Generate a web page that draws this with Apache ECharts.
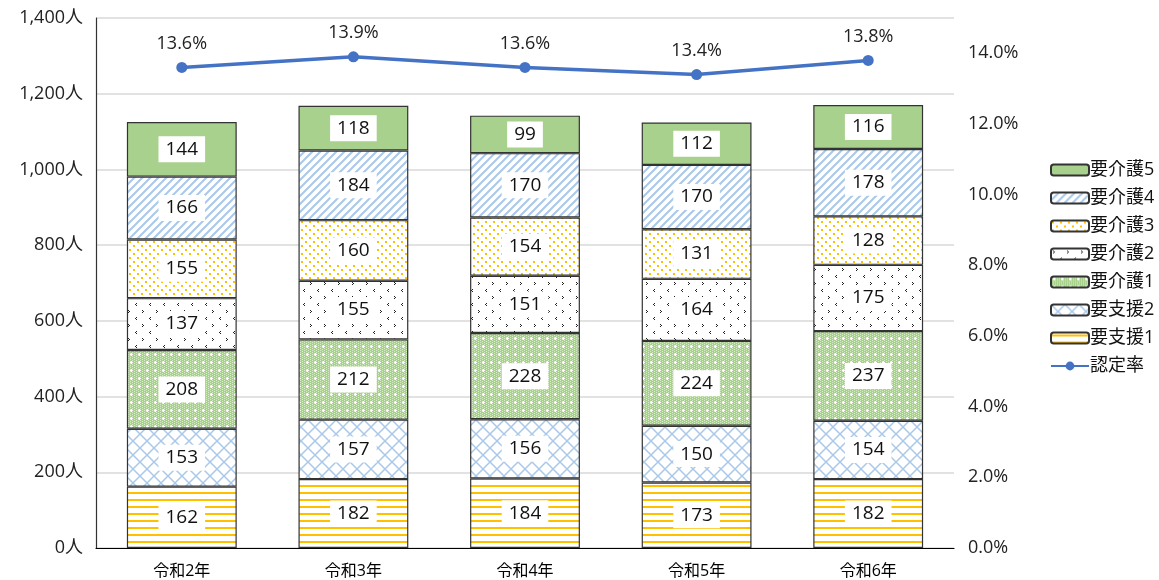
<!DOCTYPE html>
<html><head><meta charset="utf-8">
<script src="https://cdn.jsdelivr.net/npm/echarts@6/dist/echarts.min.js"></script>
<style>html,body{margin:0;padding:0;background:#fff}#c{width:1159px;height:580px}</style>
</head><body><div id="c"></div>
<script>
const categories = ['令和2年','令和3年','令和4年','令和5年','令和6年'];
const seriesNames = ['要支援1','要支援2','要介護1','要介護2','要介護3','要介護4','要介護5'];
const s_shien1 = [162,182,184,173,182];
const s_shien2 = [153,157,156,150,154];
const s_kaigo1 = [208,212,228,224,237];
const s_kaigo2 = [137,155,151,164,175];
const s_kaigo3 = [155,160,154,131,128];
const s_kaigo4 = [166,184,170,170,178];
const s_kaigo5 = [144,118,99,112,116];
const rate = [13.6,13.9,13.6,13.4,13.8];
const leftTicks = [0,200,400,600,800,1000,1200,1400];

function mk(w,h,draw){const c=document.createElement('canvas');c.width=w;c.height=h;const x=c.getContext('2d');draw(x);return {image:c,repeat:'repeat'};}
const patHStripe = mk(8,7,x=>{x.fillStyle='#fff';x.fillRect(0,0,8,7);x.fillStyle='#ffc000';x.fillRect(0,2,8,2);});
const patDiamond = mk(14,14,x=>{x.fillStyle='#fff';x.fillRect(0,0,14,14);x.strokeStyle='#a9c8ea';x.lineWidth=1.5;x.beginPath();x.moveTo(0,0);x.lineTo(14,14);x.moveTo(14,0);x.lineTo(0,14);x.stroke();});
const patGreenDots = mk(8,8,x=>{x.fillStyle='#a9d18e';x.fillRect(0,0,8,8);x.fillStyle='#d8ebc9';for(let i=0;i<8;i+=2)for(let j=(i/2)%2;j<8;j+=2)x.fillRect(i,j,1,1);x.fillStyle='#fff';x.fillRect(3,1,1,3);x.fillRect(2,2,3,1);});
const patBlack = mk(14,14,x=>{x.fillStyle='#fff';x.fillRect(0,0,14,14);x.fillStyle='#222';x.fillRect(2,2,1,1);x.fillRect(3,3,1,1);x.fillRect(2,4,1,1);x.fillRect(10,9,1,1);x.fillRect(9,10,1,1);x.fillRect(10,11,1,1);});
const patYDots = mk(8,8,x=>{x.fillStyle='#fff';x.fillRect(0,0,8,8);x.fillStyle='#ffc000';x.fillRect(1,1,2,2);x.fillRect(5,5,2,2);});
const patDiag = mk(8,8,x=>{x.fillStyle='#fff';x.fillRect(0,0,8,8);x.strokeStyle='#a9c8ea';x.lineWidth=2;x.beginPath();x.moveTo(0,8);x.lineTo(8,0);x.moveTo(-4,4);x.lineTo(4,-4);x.moveTo(4,12);x.lineTo(12,4);x.stroke();});
const colors = [patHStripe,patDiamond,patGreenDots,patBlack,patYDots,patDiag,'#a9d18e'];
const values = [s_shien1,s_shien2,s_kaigo1,s_kaigo2,s_kaigo3,s_kaigo4,s_kaigo5];

const font = '"Open Sans","Noto Sans CJK JP",sans-serif';
const barSeries = seriesNames.map((n,i)=>({
  name:n,type:'bar',stack:'a',data:values[i],barWidth:'64%',
  itemStyle:{color:colors[i],borderColor:'#333',borderWidth:1.2},
  label:{show:true,position:'inside',backgroundColor:'#fff',padding:[4,7,3,7],color:'#111',fontSize:19,fontFamily:font},
  emphasis:{disabled:true}
}));
const chart = echarts.init(document.getElementById('c'));
chart.setOption({
  animation:false,
  textStyle:{fontFamily:font},
  grid:{left:96,right:205,top:18,bottom:32},
  legend:{orient:'vertical',left:1045,top:156,itemWidth:38,itemHeight:11,itemGap:10,
    textStyle:{fontSize:18,color:'#111',fontFamily:font,padding:[0,0,0,-4]},
    data:['要介護5','要介護4','要介護3','要介護2','要介護1','要支援2','要支援1','認定率']},
  xAxis:{type:'category',data:categories,axisTick:{show:false},
    axisLine:{lineStyle:{color:'#000',width:1.2}},
    axisLabel:{color:'#000',fontSize:16,margin:15}},
  yAxis:[
    {type:'value',min:leftTicks[0],max:leftTicks[leftTicks.length-1],interval:200,
     axisLine:{show:true,lineStyle:{color:'#333',width:1.2}},axisTick:{show:false},
     splitLine:{lineStyle:{color:'#d9d9d9',width:1.5}},
     axisLabel:{color:'#222',fontSize:18,margin:13,formatter:v=>v.toLocaleString('en-US')+'人'}},
    {type:'value',min:0,max:15,interval:2,position:'right',
     axisLine:{show:false},axisTick:{show:false},splitLine:{show:false},
     axisLabel:{color:'#222',fontSize:18,margin:14,showMaxLabel:false,formatter:v=>v.toFixed(1)+'%'}}
  ],
  series:[...barSeries,{
    name:'認定率',type:'line',yAxisIndex:1,data:rate,
    symbol:'circle',symbolSize:11,
    lineStyle:{color:'#4472c4',width:3.5},itemStyle:{color:'#4472c4'},
    label:{show:true,position:'top',distance:9,color:'#222',fontSize:18,formatter:p=>p.value.toFixed(1)+'%'},
    emphasis:{disabled:true}
  }]
});
</script></body></html>
